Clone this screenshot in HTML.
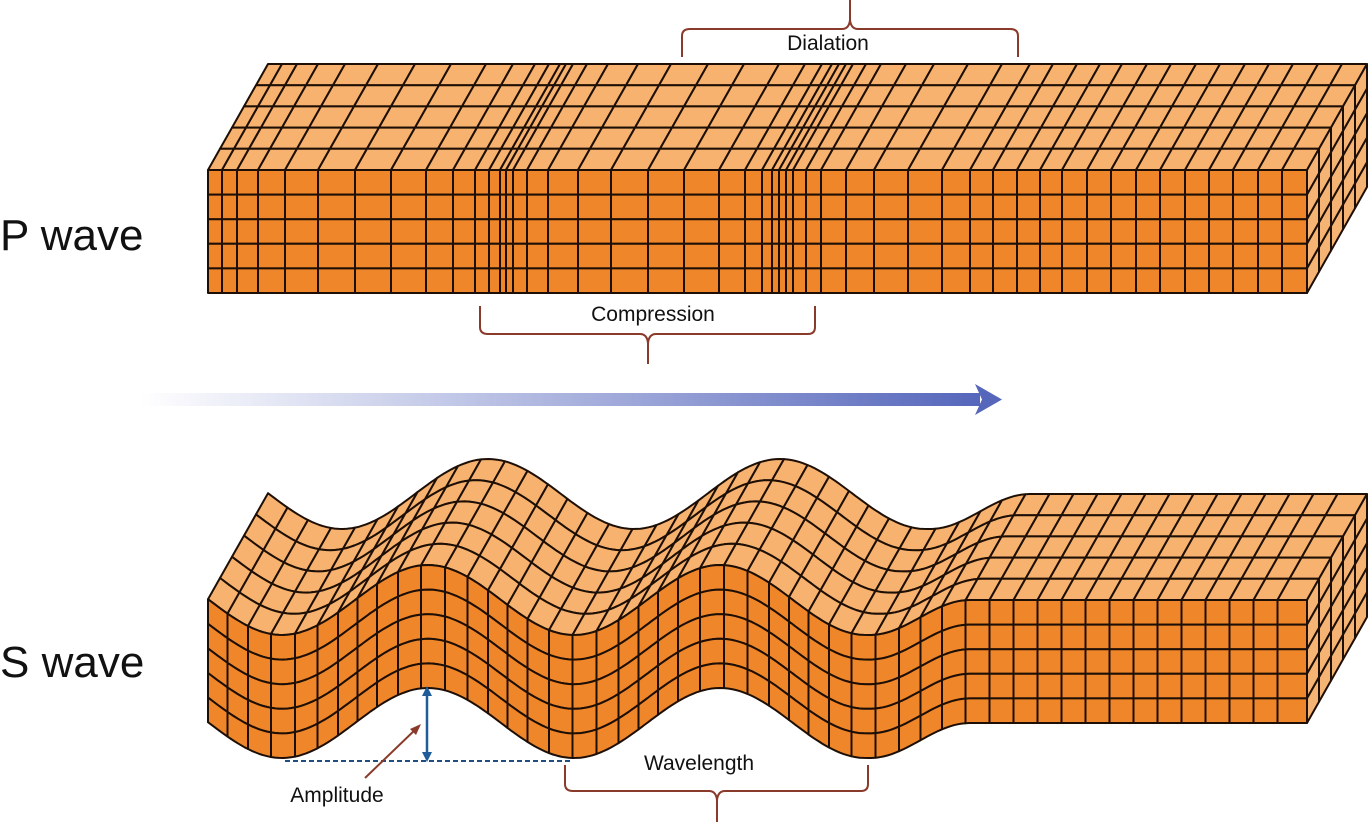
<!DOCTYPE html>
<html><head><meta charset="utf-8">
<style>
html,body{margin:0;padding:0;background:#fff;}
svg{display:block;}
text{font-family:"Liberation Sans",sans-serif;fill:#111;}
</style></head>
<body>
<svg id="s" xmlns="http://www.w3.org/2000/svg" width="1370" height="822" viewBox="0 0 1370 822">
<defs>
<linearGradient id="ag" x1="0" x2="1" y1="0" y2="0">
<stop offset="0" stop-color="#5b6bc0" stop-opacity="0"/>
<stop offset="1" stop-color="#5566bb" stop-opacity="1"/>
</linearGradient>
</defs>
<g id="pw"></g>
<g id="sw"></g>
<text x="0" y="250" font-size="44">P  wave</text>
<text x="0" y="677" font-size="44">S  wave</text>
<rect x="140" y="393" width="840" height="13" fill="url(#ag)"/>
<polygon points="975,384 1002,399.5 975,415 982,399.5" fill="#5566bb"/>
<g fill="none" stroke="#8a3a2a" stroke-width="2">
<path d="M682,57 L682,36 Q682,29 690,29 L842,29 Q849,29 850,20 L850,0 M850,20 Q851,29 858,29 L1010,29 Q1018,29 1018,36 L1018,57"/>
<path d="M480,306 L480,327 Q480,334 488,334 L640,334 Q647,334 648,343 L648,364 M648,343 Q649,334 656,334 L808,334 Q815,334 815,327 L815,306"/>
<path d="M565,765 L565,784 Q565,791 573,791 L709,791 Q716,791 717,800 L717,822 M717,800 Q718,791 725,791 L861,791 Q868,791 868,784 L868,765"/>
</g>
<text x="828" y="50" font-size="21" text-anchor="middle">Dialation</text>
<text x="653" y="321" font-size="21" text-anchor="middle">Compression</text>
<text x="699" y="770" font-size="21" text-anchor="middle">Wavelength</text>
<text x="337" y="802" font-size="21" text-anchor="middle">Amplitude</text>
<line x1="285" y1="761" x2="572" y2="761" stroke="#1f4f80" stroke-width="2" stroke-dasharray="5,3"/>
<line x1="427" y1="692" x2="427" y2="756" stroke="#1f5c99" stroke-width="2.5"/>
<polygon points="427,686 422,696 432,696" fill="#1f5c99"/>
<polygon points="427,762 422,752 432,752" fill="#1f5c99"/>
<line x1="365" y1="778" x2="418" y2="727" stroke="#8a3a2a" stroke-width="2"/>
<polygon points="421,724 410,729 416,735" fill="#8a3a2a"/>
</svg>
<script>
(function(){
var NS="http://www.w3.org/2000/svg";
var FRONT="#f0862a",TOP="#f6b26e",SIDE="#f6b474",LN="#1e0f06";
function poly(g,pts,fill,sw){var p=document.createElementNS(NS,"polygon");
p.setAttribute("points",pts.map(function(a){return a[0].toFixed(1)+","+a[1].toFixed(1)}).join(" "));
p.setAttribute("fill",fill);p.setAttribute("stroke",LN);p.setAttribute("stroke-width",sw||2);p.setAttribute("stroke-linejoin","round");g.appendChild(p);}
var DX=60,DY=-106,ROWS=5,TROWS=5,SUB=6;
function edge(a,b,f){var r=[];for(var k=0;k<=SUB;k++){var x=a+(b-a)*k/SUB;r.push(f(x));}return r;}
function build(g,cols,yt,H){
  for(var j=TROWS-1;j>=0;j--){
    var t0=j/TROWS,t1=(j+1)/TROWS;
    for(var i=0;i<cols.length-1;i++){
      var a=cols[i],b=cols[i+1];
      var e0=edge(a,b,function(x){return [x+DX*t0,yt(x)+DY*t0];});
      var e1=edge(a,b,function(x){return [x+DX*t1,yt(x)+DY*t1];}).reverse();
      poly(g,e0.concat(e1),TOP);
    }
  }
  var xr=cols[cols.length-1],yr=yt(xr);
  for(var j=0;j<TROWS;j++){var t0=j/TROWS,t1=(j+1)/TROWS;
    for(var r=0;r<ROWS;r++){var y0=yr+H*r/ROWS,y1=yr+H*(r+1)/ROWS;
      poly(g,[[xr+DX*t0,y0+DY*t0],[xr+DX*t1,y0+DY*t1],[xr+DX*t1,y1+DY*t1],[xr+DX*t0,y1+DY*t0]],SIDE);}}
  for(var i=0;i<cols.length-1;i++){var a=cols[i],b=cols[i+1];
    for(var r=0;r<ROWS;r++){
      var o0=H*r/ROWS,o1=H*(r+1)/ROWS;
      var e0=edge(a,b,function(x){return [x,yt(x)+o0];});
      var e1=edge(a,b,function(x){return [x,yt(x)+o1];}).reverse();
      poly(g,e0.concat(e1),FRONT);}}
}
var pc=[208,222,237,258,285,318,355,391,426,453,475,489,500,506,513,527,548,578,611,648,684,719,745,762,772,779,786,793,806,821,846,874,908,942,970,993,1017,1040,1062,1087,1111,1136,1160,1185,1209,1233,1258,1282,1307];
build(document.getElementById("pw"),pc,function(x){return 170;},123);
function d(x){if(x<=870)return -35*Math.cos(2*Math.PI*(x-428)/292);
  var u=Math.min(1,(x-870)/100);return 35*(1+Math.cos(Math.PI*u))/2;}
function yt(x){return 600+d(x);}
var sc=[208],acc=0,px=208,py=yt(208);
for(var x=208.5;x<=1307;x+=0.5){var y=yt(x);acc+=Math.hypot(x-px,y-py);px=x;py=y;
  if(acc>=24){sc.push(x);acc=0;}}
if(1307-sc[sc.length-1]<10)sc.pop();
sc.push(1307);
build(document.getElementById("sw"),sc,yt,123);
})();
</script>
</body></html>
